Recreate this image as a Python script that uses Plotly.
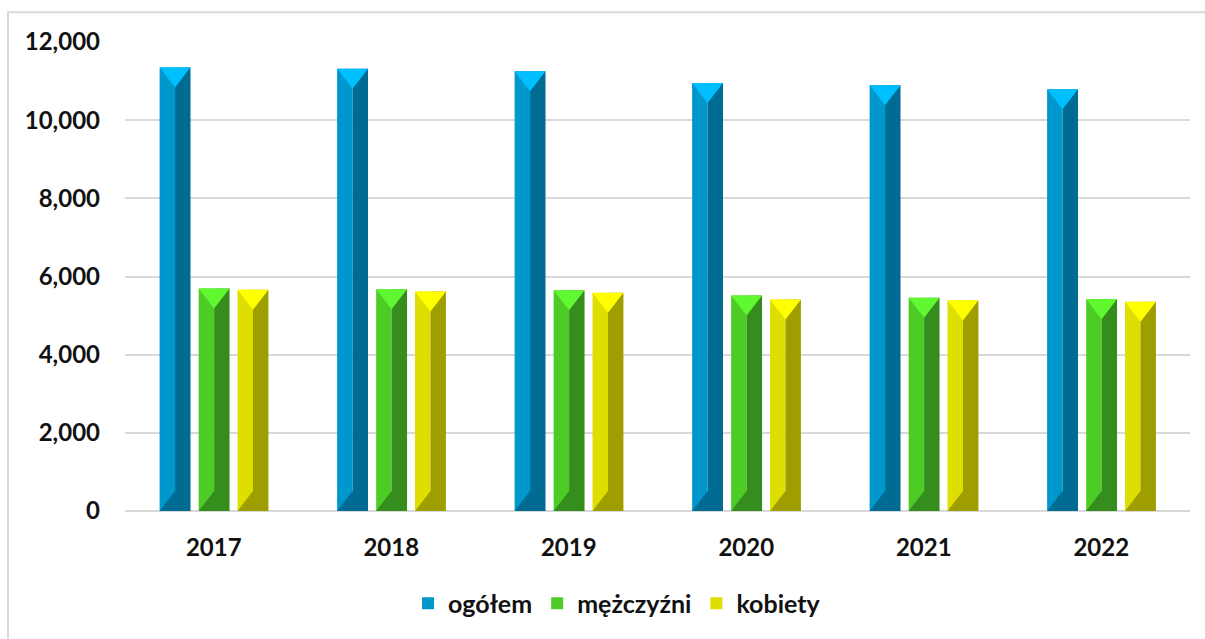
import plotly.graph_objects as go

years = ["2017", "2018", "2019", "2020", "2021", "2022"]
ogolem = [11350, 11317, 11250, 10953, 10894, 10793]
mezczyzni = [5692, 5675, 5650, 5515, 5456, 5421]
kobiety = [5660, 5616, 5583, 5413, 5388, 5354]

W, H = 1205, 639
M = dict(l=125, r=15, t=42, b=125)
Y_MAX = 12000
plot_h = H - M["t"] - M["b"]
plot_w = W - M["l"] - M["r"]
units_per_px = Y_MAX / plot_h

bar_w = 0.174
half = bar_w / 2
series = [
    # name, values, offset, light, dark, top
    ("ogółem", ogolem, -0.305, "#0097CD", "#006B93", "#00BFFF"),
    ("mężczyźni", mezczyzni, -0.085, "#4DCC26", "#358D1E", "#60F830"),
    ("kobiety", kobiety, 0.134, "#DEDE00", "#9E9E00", "#FFFF00"),
]

idx = list(range(len(years)))
fig = go.Figure()

# triangle marker sized to the bar width (plotly triangle: width = 2.31 r)
tri_r = (bar_w * plot_w / len(years)) / 2.309
tri_size = tri_r * 2
tri_shift = (tri_r / 2) * units_per_px

for name, vals, off, light, dark, top in series:
    fig.add_trace(go.Bar(
        x=idx, y=vals, offset=off, width=half,
        marker=dict(color=light, line=dict(width=0)),
        name=name, legendgroup=name, showlegend=True,
    ))
    fig.add_trace(go.Bar(
        x=idx, y=vals, offset=off + half, width=half,
        marker=dict(color=dark, line=dict(width=0)),
        name=name, legendgroup=name, showlegend=False,
    ))
    cx = [i + off + half for i in idx]
    fig.add_trace(go.Scatter(
        x=cx, y=[v - tri_shift for v in vals], mode="markers",
        marker=dict(symbol="triangle-down", size=tri_size, color=top, line=dict(width=0)),
        legendgroup=name, showlegend=False, hoverinfo="skip",
    ))
    fig.add_trace(go.Scatter(
        x=cx, y=[tri_shift] * len(vals), mode="markers",
        marker=dict(symbol="triangle-up", size=tri_size, color=dark, line=dict(width=0)),
        legendgroup=name, showlegend=False, hoverinfo="skip",
    ))

fig.update_layout(
    width=W, height=H,
    margin=M,
    barmode="overlay",
    paper_bgcolor="white",
    plot_bgcolor="white",
    font=dict(family="Lato", size=24, color="#111111", weight="bold"),
    showlegend=True,
    legend=dict(
        orientation="h", x=0.462, xanchor="center",
        y=-93 / plot_h, yanchor="middle",
        font=dict(family="Lato", size=25, color="#111111", weight="bold"),
        itemwidth=30,
    ),
    xaxis=dict(
        range=[-0.5, len(years) - 0.5],
        tickvals=idx, ticktext=years,
        tickfont=dict(weight="bold"),
        showgrid=False, zeroline=False, showline=False,
        ticklabelstandoff=20,
    ),
    yaxis=dict(
        range=[0, Y_MAX], dtick=2000,
        tickformat=",d",
        tickfont=dict(weight="bold"),
        showgrid=True, gridcolor="#D9D9D9", gridwidth=2,
        zeroline=True, zerolinecolor="#D9D9D9", zerolinewidth=2,
        showline=False,
        ticklabelstandoff=24,
    ),
    shapes=[dict(
        type="rect", xref="paper", yref="paper",
        x0=(8 - M["l"]) / plot_w, x1=1.3,
        y0=-0.4, y1=1 + (M["t"] - 12) / plot_h,
        line=dict(color="#D9D9D9", width=2), layer="below",
    )],
)

fig.write_html(
    "out.html",
    config={"displayModeBar": False},
    post_script="document.body.style.margin='0';document.body.style.overflow='hidden';",
)
